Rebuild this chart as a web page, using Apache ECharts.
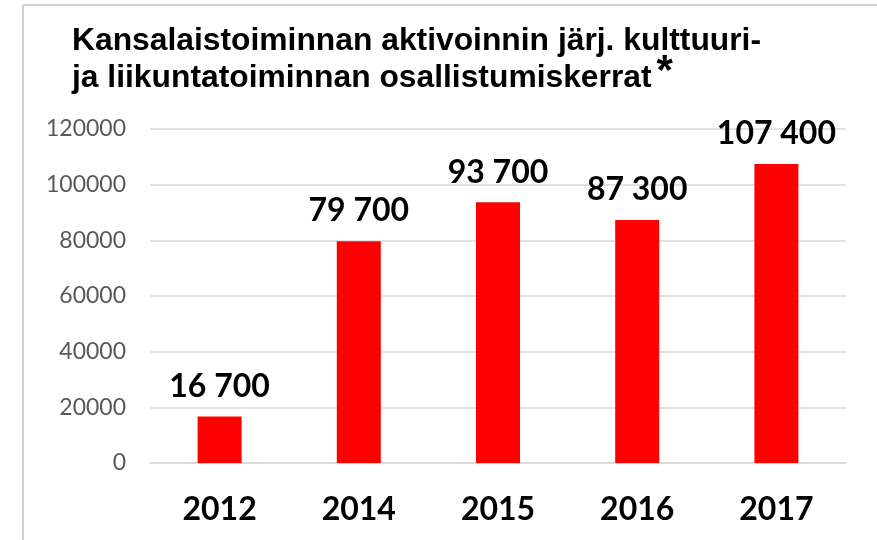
<!DOCTYPE html>
<html>
<head>
<meta charset="utf-8">
<script src="https://cdn.jsdelivr.net/npm/echarts@6/dist/echarts.min.js"></script>
<style>
html,body{margin:0;padding:0;background:#fff;}
#c{width:877px;height:540px;}
</style>
</head>
<body>
<div id="c"></div>
<script>
const titleLine1 = 'Kansalaistoiminnan aktivoinnin järj. kulttuuri-';
const titleLine2 = 'ja liikuntatoiminnan osallistumiskerrat';
const categories = ['2012', '2014', '2015', '2016', '2017'];
const values = [16700, 79700, 93700, 87300, 107400];
const yTicks = [0, 20000, 40000, 60000, 80000, 100000, 120000];

function fmt(v) {
  return String(v).replace(/\B(?=(\d{3})+(?!\d))/g, ' ');
}

const chart = echarts.init(document.getElementById('c'), null, {renderer: 'canvas'});
chart.setOption({
  backgroundColor: '#ffffff',
  animation: false,
  title: {
    text: '{t|' + titleLine1 + '}\n{t|' + titleLine2 + '}{s|*}',
    left: 67,
    top: 18,
    textStyle: {
      rich: {
        t: {fontFamily: 'Liberation Sans', fontWeight: 'bold', fontSize: 31.8, color: '#000', lineHeight: 37},
        s: {fontFamily: 'Liberation Sans', fontWeight: 'bold', fontSize: 42, color: '#000', lineHeight: 30, verticalAlign: 'bottom', padding: [0, 0, 4, 5]}
      }
    }
  },
  graphic: [
    {type: 'line', shape: {x1: 23, y1: 5, x2: 23, y2: 540}, style: {stroke: '#d0d0d0', lineWidth: 2}, silent: true},
    {type: 'line', shape: {x1: 23, y1: 5, x2: 877, y2: 5}, style: {stroke: '#d0d0d0', lineWidth: 2}, silent: true}
  ],
  grid: {left: 150, right: 31, top: 129, bottom: 77, containLabel: false},
  xAxis: {
    type: 'category',
    data: categories,
    axisLine: {show: true, lineStyle: {color: '#d9d9d9', width: 1.5}},
    axisTick: {show: false},
    axisLabel: {fontFamily: 'Lato', fontWeight: 'bold', fontSize: 32, color: '#000', margin: 31}
  },
  yAxis: {
    type: 'value',
    min: yTicks[0],
    max: yTicks[yTicks.length - 1],
    interval: yTicks[1] - yTicks[0],
    axisLine: {show: false},
    axisTick: {show: false},
    splitLine: {lineStyle: {color: '#d9d9d9', width: 1.5}},
    axisLabel: {fontFamily: 'Lato', fontSize: 23, color: '#595959', margin: 24, formatter: v => String(v)}
  },
  series: [{
    type: 'bar',
    data: values,
    barWidth: 44,
    itemStyle: {color: '#ff0000'},
    label: {
      show: true,
      position: 'top',
      distance: 14,
      formatter: p => fmt(p.value),
      fontFamily: 'Lato',
      fontWeight: 'bold',
      fontSize: 32,
      color: '#000'
    }
  }]
});
</script>
</body>
</html>
